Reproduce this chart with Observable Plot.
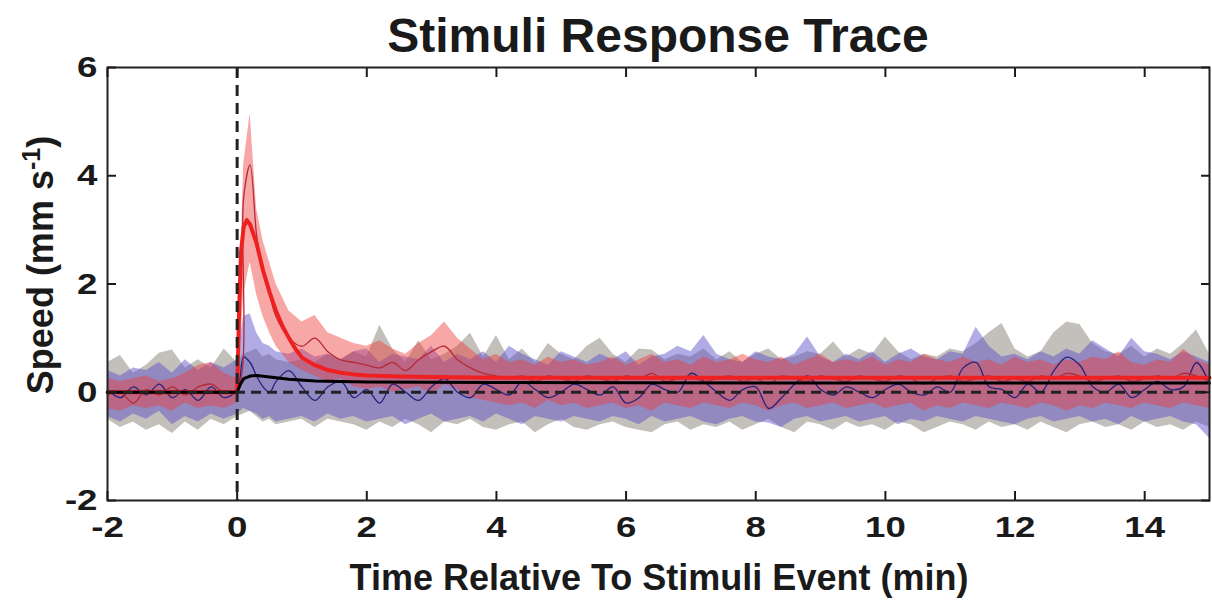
<!DOCTYPE html>
<html><head><meta charset="utf-8">
<script src="https://cdn.jsdelivr.net/npm/d3@7"></script>
<script src="https://cdn.jsdelivr.net/npm/@observablehq/plot@0.6"></script>
<style>
html,body{margin:0;padding:0;background:#fff;}
#chart svg{display:block;}
</style></head><body><div id="chart"></div>
<script>
// time grid of the shaded traces (min)
const times = [-2,-1.8,-1.6,-1.4,-1.2,-1,-0.8,-0.6,-0.4,-0.2,
  0,0.1,0.2,0.3,0.4,0.5,0.6,0.8,1,1.2,
  1.4,1.6,1.8,2,2.2,2.4,2.6,2.8,3,3.2,
  3.4,3.6,3.8,4,4.2,4.4,4.6,4.8,5,5.2,
  5.4,5.6,5.8,6,6.2,6.4,6.6,6.8,7,7.2,
  7.4,7.6,7.8,8,8.2,8.4,8.6,8.8,9,9.2,
  9.4,9.6,9.8,10,10.2,10.4,10.6,10.8,11,11.2,
  11.4,11.6,11.8,12,12.2,12.4,12.6,12.8,13,13.2,
  13.4,13.6,13.8,14,14.2,14.4,14.6,14.8,15];
// grey band
const greyHi = [0.55,0.68,0.35,0.50,0.72,0.78,0.45,0.60,0.45,0.80,
  0.55,0.70,0.75,0.80,0.65,0.70,0.60,0.55,0.60,0.55,
  0.70,0.60,0.75,0.65,1.24,0.80,0.55,0.95,0.60,0.70,
  0.85,1.09,0.65,1.05,0.60,0.80,0.55,0.90,0.70,0.60,
  0.85,1.00,0.70,0.55,0.80,0.78,0.60,0.70,0.65,0.80,
  0.60,0.75,0.55,0.70,0.80,0.60,0.65,0.75,0.70,0.93,
  0.65,0.80,0.70,1.02,0.75,0.60,0.70,0.65,0.80,0.75,
  0.90,1.10,1.27,0.80,0.65,0.75,1.10,1.30,1.25,0.90,
  0.75,0.70,0.85,0.65,0.80,0.70,0.90,1.15,0.70];
const greyLo = [-0.50,-0.65,-0.55,-0.70,-0.60,-0.76,-0.55,-0.70,-0.50,-0.60,
  -0.45,-0.40,-0.35,-0.45,-0.55,-0.50,-0.60,-0.55,-0.50,-0.65,
  -0.50,-0.55,-0.60,-0.70,-0.55,-0.65,-0.50,-0.60,-0.75,-0.55,
  -0.60,-0.50,-0.65,-0.70,-0.60,-0.55,-0.75,-0.60,-0.50,-0.65,
  -0.70,-0.60,-0.55,-0.65,-0.70,-0.75,-0.60,-0.55,-0.70,-0.60,
  -0.65,-0.55,-0.70,-0.60,-0.50,-0.65,-0.75,-0.55,-0.60,-0.70,
  -0.55,-0.65,-0.60,-0.70,-0.55,-0.60,-0.75,-0.65,-0.55,-0.60,
  -0.70,-0.55,-0.65,-0.60,-0.70,-0.55,-0.65,-0.75,-0.60,-0.55,
  -0.65,-0.60,-0.70,-0.55,-0.65,-0.60,-0.70,-0.55,-0.65];
// blue band
const blueHi = [0.40,0.30,0.45,0.40,0.55,0.35,0.60,0.40,0.55,0.45,
  0.60,1.40,1.45,1.10,0.90,0.85,0.75,0.70,0.80,0.65,
  0.70,0.60,0.75,0.80,0.55,0.70,0.65,0.60,0.85,0.55,
  0.70,0.60,0.75,0.55,0.85,0.70,0.60,0.50,0.75,0.65,
  0.55,0.70,0.60,0.75,0.50,0.65,0.70,0.85,0.75,1.05,
  0.70,0.60,0.55,0.75,0.65,0.60,0.70,1.02,0.65,0.55,
  0.70,0.60,0.75,0.55,0.70,0.80,0.65,0.60,0.75,0.70,
  1.20,0.85,0.65,0.70,0.60,0.75,0.65,0.80,0.70,0.95,
  0.80,0.65,1.00,0.75,0.70,0.60,0.75,0.65,0.55];
const blueLo = [-0.45,-0.55,-0.40,-0.50,-0.35,-0.60,-0.45,-0.55,-0.40,-0.50,
  -0.40,-0.30,-0.35,-0.40,-0.50,-0.45,-0.55,-0.50,-0.45,-0.55,
  -0.40,-0.50,-0.45,-0.55,-0.50,-0.45,-0.60,-0.50,-0.40,-0.55,
  -0.50,-0.45,-0.55,-0.40,-0.50,-0.60,-0.45,-0.50,-0.55,-0.45,
  -0.50,-0.55,-0.45,-0.50,-0.60,-0.45,-0.55,-0.50,-0.45,-0.55,
  -0.60,-0.50,-0.45,-0.55,-0.57,-0.65,-0.50,-0.45,-0.55,-0.50,
  -0.45,-0.55,-0.50,-0.45,-0.60,-0.50,-0.55,-0.45,-0.50,-0.55,
  -0.45,-0.50,-0.55,-0.60,-0.50,-0.45,-0.55,-0.50,-0.45,-0.55,
  -0.50,-0.60,-0.45,-0.55,-0.50,-0.45,-0.55,-0.60,-0.85];
// red band
const redHi = [0.25,0.20,0.25,0.30,0.20,0.25,0.35,0.50,0.55,0.35,
  0.25,4.20,5.15,3.40,2.80,2.40,2.00,1.50,1.30,1.42,
  1.10,1.00,0.90,0.85,0.95,0.80,0.70,0.90,1.05,1.30,
  1.00,0.80,0.60,0.70,0.55,0.60,0.50,0.65,0.55,0.60,
  0.50,0.55,0.65,0.50,0.60,0.70,0.55,0.60,0.50,0.65,
  0.55,0.60,0.70,0.60,0.55,0.65,0.50,0.60,0.70,0.55,
  0.60,0.55,0.65,0.50,0.60,0.55,0.70,0.60,0.55,0.65,
  0.55,0.60,0.50,0.65,0.55,0.60,0.50,0.60,0.55,0.65,
  0.60,0.75,0.55,0.50,0.60,0.55,0.80,0.60,0.50];
const redLo = [-0.30,-0.35,-0.25,-0.30,-0.25,-0.35,-0.20,-0.30,-0.25,-0.30,
  -0.20,1.80,2.40,1.80,1.40,1.10,0.85,0.55,0.40,0.30,
  0.20,0.25,0.10,0.05,0.10,0.00,0.05,0.10,-0.05,0.15,
  0.05,-0.10,-0.15,-0.20,-0.25,-0.20,-0.30,-0.15,-0.25,-0.20,
  -0.30,-0.25,-0.20,-0.30,-0.25,-0.35,-0.20,-0.25,-0.30,-0.20,
  -0.25,-0.30,-0.20,-0.25,-0.35,-0.25,-0.20,-0.30,-0.25,-0.20,
  -0.30,-0.25,-0.20,-0.30,-0.25,-0.20,-0.35,-0.25,-0.30,-0.20,
  -0.25,-0.30,-0.20,-0.25,-0.30,-0.20,-0.25,-0.35,-0.25,-0.30,
  -0.20,-0.25,-0.30,-0.20,-0.25,-0.30,-0.20,-0.25,-0.30];
// mean traces
const blueMean = [0.05,-0.10,0.10,-0.05,0.15,-0.10,0.05,-0.15,0.10,-0.10,
  0.05,0.65,0.55,0.30,0.10,0.00,0.20,0.40,0.10,-0.15,
  0.10,0.20,-0.10,0.05,-0.20,0.15,0.00,-0.15,0.10,0.25,
  0.00,-0.10,0.15,0.05,-0.05,0.20,0.05,-0.10,0.00,0.15,
  0.05,-0.05,0.10,-0.20,-0.10,0.15,0.05,0.00,0.35,0.20,
  0.00,-0.15,0.05,0.10,-0.30,-0.10,0.15,0.30,0.05,-0.05,
  0.10,0.00,-0.10,0.05,0.15,0.00,-0.05,0.10,0.00,0.45,
  0.55,0.10,0.05,-0.10,0.15,0.00,0.40,0.65,0.50,0.10,
  0.00,0.15,-0.10,0.05,0.20,0.05,0.10,0.55,0.15];
const redMean = [-0.05,0.00,-0.20,0.05,-0.05,0.10,-0.05,0.10,0.15,0.00,
  0.05,3.60,4.20,2.90,2.20,1.80,1.40,1.00,0.85,1.00,
  0.75,0.60,0.55,0.50,0.45,0.55,0.40,0.60,0.75,0.85,
  0.60,0.45,0.35,0.30,0.25,0.30,0.20,0.30,0.25,0.20,
  0.30,0.25,0.20,0.30,0.25,0.35,0.20,0.25,0.30,0.20,
  0.25,0.30,0.20,0.25,0.15,0.30,0.25,0.20,0.30,0.25,
  0.20,0.30,0.25,0.20,0.30,0.25,0.15,0.25,0.30,0.20,
  0.25,0.30,0.20,0.25,0.20,0.30,0.25,0.35,0.30,0.20,
  0.25,0.30,0.20,0.25,0.30,0.25,0.35,0.30,0.20];
// fitted response curves
const redFitTime  = [-2,0,0.03,0.06,0.1,0.15,0.2,0.3,0.4,0.5,0.6,0.7,0.8,0.9,1.0,1.2,1.4,1.6,1.8,2.0,2.5,3,4,6,10,15];
const redFitSpeed = [0,0,1.5,2.6,3.05,3.18,3.1,2.75,2.25,1.85,1.5,1.22,1.0,0.8,0.64,0.5,0.41,0.36,0.33,0.31,0.29,0.28,0.27,0.27,0.27,0.27];
const blackFitTime  = [-2,0,0.05,0.1,0.2,0.3,0.5,0.8,1.2,2,4,8,15];
const blackFitSpeed = [0,0,0.15,0.25,0.3,0.31,0.28,0.24,0.21,0.19,0.18,0.17,0.17];
// axis ticks
const xTicks = [-2,0,2,4,6,8,10,12,14];
const yTicks = [-2,0,2,4,6];

const rows = times.map((t,i)=>({t, gH:greyHi[i], gL:greyLo[i], bH:blueHi[i], bL:blueLo[i], rH:redHi[i], rL:redLo[i], bM:blueMean[i], rM:redMean[i]}));
const redFit = redFitTime.map((t,i)=>({t, v:redFitSpeed[i]}));
const blackFit = blackFitTime.map((t,i)=>({t, v:blackFitSpeed[i]}));

const FONT = '"Liberation Sans", Arial, sans-serif';
const fmt = d => String(d);

const plot = Plot.plot({
  width: 1212, height: 602,
  marginLeft: 107, marginRight: 3, marginTop: 67, marginBottom: 102,
  x: {domain: [-2, 15], label: null},
  y: {domain: [-2, 6], label: null},
  style: {fontFamily: FONT, fontWeight: "bold", fontSize: "30px", color: "#1a1a1a", background: "#fff"},
  marks: [
    Plot.areaY(rows, {x: "t", y1: "gL", y2: "gH", fill: "rgb(135,130,120)", fillOpacity: 0.5}),
    Plot.areaY(rows, {x: "t", y1: "bL", y2: "bH", fill: "rgb(85,70,200)", fillOpacity: 0.45}),
    Plot.areaY(rows, {x: "t", y1: "rL", y2: "rH", fill: "rgb(240,60,60)", fillOpacity: 0.45}),
    Plot.line(rows, {x: "t", y: "bM", stroke: "#24247a", strokeWidth: 1.3, curve: "catmull-rom"}),
    Plot.line(rows, {x: "t", y: "rM", stroke: "#b52a36", strokeWidth: 1.3, curve: "catmull-rom"}),
    Plot.line(redFit, {x: "t", y: "v", stroke: "#ee2020", strokeWidth: 4}),
    Plot.line(blackFit, {x: "t", y: "v", stroke: "#000", strokeWidth: 3}),
    Plot.ruleY([0], {stroke: "#222", strokeWidth: 2.8, strokeDasharray: "10,6"}),
    Plot.ruleX([0], {stroke: "#222", strokeWidth: 3, strokeDasharray: "11,7"}),
    Plot.frame({stroke: "#222", strokeWidth: 2}),
    Plot.axisX(xTicks, {anchor: "bottom", tickSize: -9, tickPadding: 24, tickFormat: fmt, fontSize: 30, fontWeight: "bold", strokeWidth: 2}),
    Plot.axisX(xTicks, {anchor: "top", tickSize: -9, tickFormat: () => "", strokeWidth: 2}),
    Plot.axisY(yTicks, {anchor: "left", tickSize: -9, tickPadding: 19, tickFormat: fmt, fontSize: 30, fontWeight: "bold", strokeWidth: 2}),
    Plot.axisY(yTicks, {anchor: "right", tickSize: -9, tickFormat: () => "", strokeWidth: 2})
  ]
});

const svg = d3.select(plot);
svg.append("text").attr("x", 658).attr("y", 52).attr("text-anchor", "middle")
  .style("font", `bold 48px ${FONT}`).attr("fill", "#1a1a1a").text("Stimuli Response Trace");
svg.append("text").attr("x", 659).attr("y", 590).attr("text-anchor", "middle")
  .style("font", `bold 36px ${FONT}`).attr("fill", "#1a1a1a").text("Time Relative To Stimuli Event (min)");
const yl = svg.append("text").attr("transform", "translate(53,265) rotate(-90)").attr("text-anchor", "middle")
  .style("font", `bold 36px ${FONT}`).attr("fill", "#1a1a1a");
yl.append("tspan").text("Speed (mm s");
yl.append("tspan").attr("dy", -13).style("font-size", "25px").text("-1");
yl.append("tspan").attr("dy", 13).text(")");

document.getElementById("chart").appendChild(plot);

// widen the tick-label glyphs a little, like the reference's wide bold digits
svg.selectAll('g[aria-label$="tick label"] text').each(function() {
  const s = this.textContent;
  if (!s) return;
  const w = this.getComputedTextLength();
  if (w > 0) {
    this.setAttribute("textLength", (w * 1.22).toFixed(1));
    this.setAttribute("lengthAdjust", "spacingAndGlyphs");
  }
});
</script></body></html>
